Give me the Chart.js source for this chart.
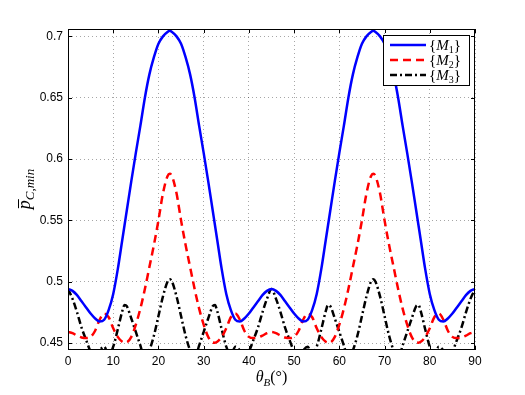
<!DOCTYPE html>
<html lang="en">
<head>
<meta charset="UTF-8" />
<title>p C,min vs theta B</title>
<script src="https://cdn.jsdelivr.net/npm/chart.js"></script>
<style>
  html, body { margin: 0; padding: 0; background: #fff; }
  #wrap { width: 525px; height: 395px; }
</style>
</head>
<body>
<div id="wrap"><canvas id="chart" width="525" height="395"></canvas></div>
<script>
// angle theta_B in degrees
const thetaB = [0,1,2,3,4,5,6,7,8,9,10,11,12,12.5,13,14,15,16,17,18,19,20,21,22,22.5,
  23,24,25,26,27,28,29,30,31,32,32.5,33,34,35,36,37,38,39,40,41,42,43,44,45,
  46,47,48,49,50,51,52,53,54,55,56,57,57.5,58,59,60,61,62,63,64,65,66,67,67.5,
  68,69,70,71,72,73,74,75,76,77,77.5,78,79,80,81,82,83,84,85,86,87,88,89,90];

// {M1}
const m1 = [0.494,0.4925,0.489,0.484,0.479,0.474,0.470,0.4675,0.469,0.477,0.490,0.510,0.534,0.546,0.558,0.582,0.605,0.627,0.650,0.669,0.683,0.694,0.700,0.7035,0.7045,
  0.7035,0.700,0.694,0.683,0.669,0.650,0.627,0.605,0.582,0.558,0.546,0.534,0.510,0.490,0.477,0.469,0.4675,0.470,0.474,0.479,0.484,0.489,0.4925,0.494,
  0.4925,0.489,0.484,0.479,0.474,0.470,0.4675,0.469,0.477,0.490,0.510,0.534,0.546,0.558,0.582,0.605,0.627,0.650,0.669,0.683,0.694,0.700,0.7035,0.7045,
  0.7035,0.700,0.694,0.683,0.669,0.650,0.627,0.605,0.582,0.558,0.546,0.534,0.510,0.490,0.477,0.469,0.4675,0.470,0.474,0.479,0.484,0.489,0.4925,0.494];

// {M2}
const m2 = [0.459,0.458,0.456,0.4545,0.454,0.455,0.460,0.469,0.474,0.471,0.462,0.455,0.451,0.4503,0.4505,0.455,0.465,0.478,0.494,0.512,0.530,0.550,0.572,0.586,0.588,
  0.586,0.572,0.550,0.530,0.512,0.494,0.478,0.465,0.455,0.4505,0.4503,0.451,0.455,0.462,0.471,0.474,0.469,0.460,0.455,0.454,0.4545,0.456,0.458,0.459,
  0.458,0.456,0.4545,0.454,0.455,0.460,0.469,0.474,0.471,0.462,0.455,0.451,0.4503,0.4505,0.455,0.465,0.478,0.494,0.512,0.530,0.550,0.572,0.586,0.588,
  0.586,0.572,0.550,0.530,0.512,0.494,0.478,0.465,0.455,0.4505,0.4503,0.451,0.455,0.462,0.471,0.474,0.469,0.460,0.455,0.454,0.4545,0.456,0.458,0.459];

// {M3}
const m3 = [0.494,0.486,0.475,0.4625,0.4525,0.443,0.438,0.444,0.447,0.440,0.447,0.461,0.476,0.481,0.480,0.470,0.459,0.448,0.437,0.444,0.456,0.472,0.488,0.500,0.502,
  0.500,0.488,0.472,0.456,0.444,0.437,0.448,0.459,0.470,0.480,0.481,0.476,0.461,0.447,0.440,0.447,0.444,0.438,0.443,0.4525,0.4625,0.475,0.486,0.494,
  0.486,0.475,0.4625,0.4525,0.443,0.438,0.444,0.447,0.440,0.447,0.461,0.476,0.481,0.480,0.470,0.459,0.448,0.437,0.444,0.456,0.472,0.488,0.500,0.502,
  0.500,0.488,0.472,0.456,0.444,0.437,0.448,0.459,0.470,0.480,0.481,0.476,0.461,0.447,0.440,0.447,0.444,0.438,0.443,0.4525,0.4625,0.475,0.486,0.494];

const seriesSubs = ['1', '2', '3'];
const yTicks = [0.45, 0.5, 0.55, 0.6, 0.65, 0.7];
const xTicks = [0, 10, 20, 30, 40, 50, 60, 70, 80, 90];

const serif = '"Liberation Serif", "DejaVu Serif", serif';

// draw a row of text pieces (font + vertical shift), centred or left aligned
function drawRuns(ctx, runs, x, y, align) {
  let total = 0;
  runs.forEach(r => { ctx.font = r.font; total += ctx.measureText(r.text).width; });
  let cx = align === 'center' ? x - total / 2 : x;
  ctx.textAlign = 'left';
  ctx.textBaseline = 'alphabetic';
  const pos = [];
  runs.forEach(r => {
    ctx.font = r.font;
    const w = ctx.measureText(r.text).width;
    ctx.fillText(r.text, cx, y + (r.dy || 0));
    pos.push([cx, w]);
    cx += w;
  });
  return pos;
}

const matlabDecor = {
  id: 'matlabDecor',
  afterDraw(chart) {
    const ctx = chart.ctx;
    const a = chart.chartArea;
    const xs = chart.scales.x, ys = chart.scales.y;
    ctx.save();
    ctx.strokeStyle = '#000';
    ctx.lineWidth = 1;
    // box
    ctx.strokeRect(Math.round(a.left) + 0.5, Math.round(a.top) + 0.5,
      Math.round(a.right - a.left) - 1, Math.round(a.bottom - a.top) - 1);
    // inward ticks
    ctx.beginPath();
    xTicks.forEach(v => {
      const px = Math.round(xs.getPixelForValue(v)) + 0.5;
      ctx.moveTo(px, a.bottom); ctx.lineTo(px, a.bottom - 4);
      ctx.moveTo(px, a.top); ctx.lineTo(px, a.top + 4);
    });
    yTicks.forEach(v => {
      const py = Math.round(ys.getPixelForValue(v)) + 0.5;
      ctx.moveTo(a.left, py); ctx.lineTo(a.left + 4, py);
      ctx.moveTo(a.right, py); ctx.lineTo(a.right - 4, py);
    });
    ctx.stroke();

    // legend
    const lx = 383, ly = 35, lw = 86, lh = 50;
    ctx.fillStyle = '#fff';
    ctx.fillRect(lx, ly, lw, lh);
    ctx.strokeRect(lx + 0.5, ly + 0.5, lw, lh);
    chart.data.datasets.forEach((ds, i) => {
      const ry = 45 + i * 15;
      ctx.strokeStyle = ds.borderColor;
      ctx.lineWidth = 2.5;
      ctx.setLineDash(ds.borderDash || []);
      ctx.beginPath();
      ctx.moveTo(390, ry); ctx.lineTo(426, ry);
      ctx.stroke();
      ctx.setLineDash([]);
      ctx.fillStyle = '#000';
      drawRuns(ctx, [
        { text: '{', font: '15px ' + serif },
        { text: 'M', font: 'italic 15px ' + serif },
        { text: seriesSubs[i], font: '10px ' + serif, dy: 3 },
        { text: '}', font: '15px ' + serif }
      ], 429, ry + 5, 'left');
    });

    // x axis title
    ctx.fillStyle = '#000';
    drawRuns(ctx, [
      { text: '\u03B8', font: 'italic 16px ' + serif },
      { text: 'B', font: 'italic 11px ' + serif, dy: 4 },
      { text: '(\u00B0)', font: '16px ' + serif }
    ], (a.left + a.right) / 2, 382, 'center');

    // y axis title, rotated
    ctx.translate(30, 189);
    ctx.rotate(-Math.PI / 2);
    const pos = drawRuns(ctx, [
      { text: 'p', font: 'italic 18px ' + serif },
      { text: 'C,min', font: 'italic 13px ' + serif, dy: 4 }
    ], 0, 0, 'center');
    ctx.strokeStyle = '#000';
    ctx.lineWidth = 1;
    ctx.beginPath();
    ctx.moveTo(pos[0][0] + 1, -11.5); ctx.lineTo(pos[0][0] + pos[0][1] + 1, -11.5);
    ctx.stroke();
    ctx.restore();
  }
};

function makeSet(values, color, dash) {
  return {
    data: thetaB.map((x, i) => ({ x: x, y: values[i] })),
    borderColor: color,
    borderWidth: 2.5,
    borderDash: dash,
    pointRadius: 0,
    fill: false,
    cubicInterpolationMode: 'monotone'
  };
}

const tickFont = { family: '"Liberation Sans", Arial, sans-serif', size: 12 };

new Chart(document.getElementById('chart'), {
  type: 'line',
  data: {
    datasets: [
      makeSet(m1, '#0000ff', []),
      makeSet(m2, '#ff0000', [8, 5]),
      makeSet(m3, '#000000', [7, 3, 2, 3])
    ]
  },
  options: {
    responsive: false,
    animation: false,
    devicePixelRatio: 1,
    layout: { padding: { top: 29, right: 50, bottom: 0, left: 0 } },
    plugins: { legend: { display: false }, tooltip: { enabled: false } },
    scales: {
      x: {
        type: 'linear', min: 0, max: 90,
        afterFit: s => { s.height = 45; },
        afterBuildTicks: s => { s.ticks = xTicks.map(v => ({ value: v })); },
        ticks: { font: tickFont, color: '#000', padding: 4, maxRotation: 0 },
        grid: { color: 'rgba(0,0,0,0.35)', drawTicks: false },
        border: { display: false, dash: [1, 3] }
      },
      y: {
        type: 'linear', min: 0.4443, max: 0.706,
        afterFit: s => { s.width = 68; },
        afterBuildTicks: s => { s.ticks = yTicks.map(v => ({ value: v })); },
        ticks: { font: tickFont, color: '#000', padding: 5,
          callback: v => String(+v.toFixed(2)) },
        grid: { color: 'rgba(0,0,0,0.35)', drawTicks: false },
        border: { display: false, dash: [1, 3] }
      }
    }
  },
  plugins: [matlabDecor]
});
</script>
</body>
</html>
